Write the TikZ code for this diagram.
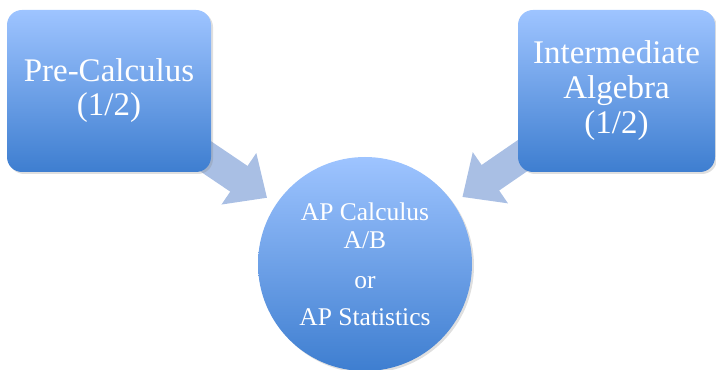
\documentclass[tikz,border=0pt]{standalone}
\usepackage{fontspec}
\setmainfont{Liberation Serif}
\usetikzlibrary{arrows.meta,shadows,backgrounds}
\definecolor{boxtop}{HTML}{9EC4FF}
\definecolor{boxbot}{HTML}{3E7ED0}
\definecolor{arrowblue}{HTML}{A9BFE4}

\begin{document}
\begin{tikzpicture}[x=1pt,y=1pt,
  course/.style={top color=boxtop,bottom color=boxbot,text=white,align=center,
    drop shadow={opacity=0.25,shadow xshift=2pt,shadow yshift=-2pt}},
  fatarrow/.style={draw=arrowblue,line width=31pt,-{Triangle[length=34pt,width=60pt]}}]
\useasboundingbox (0,0) rectangle (716,370);
\node[course,rounded corners=15pt,minimum width=204pt,minimum height=162pt,
  font=\fontsize{33}{34}\selectfont] (pre) at (109,279) {Pre-Calculus\\(1/2)};
\node[course,rounded corners=15pt,minimum width=197pt,minimum height=162pt,
  font=\fontsize{33}{35}\selectfont] (inter) at (616.5,279) {Intermediate\\Algebra\\(1/2)};
\node[course,circle,minimum size=214pt,inner sep=0pt,
  font=\fontsize{25.5}{28}\selectfont] (ap) at (365,106) {AP Calculus\\A/B\\[12pt]or\\[9pt]AP Statistics};
% arrows into the circle
\begin{scope}[on background layer]
\draw[fatarrow,shorten >=11pt] (pre.center) -- (ap);
\draw[fatarrow,shorten >=11pt] (inter.center) -- (ap);
\end{scope}
\end{tikzpicture}
\end{document}
